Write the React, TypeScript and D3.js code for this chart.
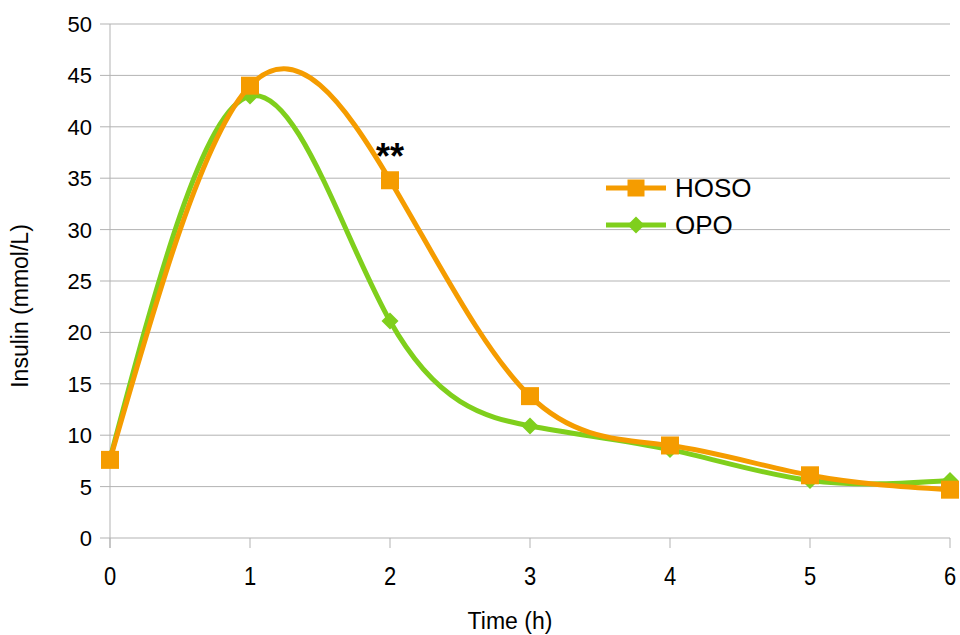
import React from 'react';
import * as d3 from 'd3';

const width = 960;
const height = 635;
const margin = { left: 110, right: 10, top: 24, bottom: 97 };

const hours = [0, 1, 2, 3, 4, 5, 6];
const hosoValues = [7.6, 44.0, 34.8, 13.8, 9.0, 6.1, 4.7];
const opoValues = [7.7, 43.0, 21.1, 10.9, 8.6, 5.6, 5.6];
const yTicks = [0, 5, 10, 15, 20, 25, 30, 35, 40, 45, 50];

const orange = '#f59c00';
const green = '#7fcf1c';
const font = '"Liberation Sans", Arial, sans-serif';

const x = d3.scaleLinear().domain([0, 6]).range([margin.left, width - margin.right]);
const y = d3.scaleLinear().domain([0, 50]).range([height - margin.bottom, margin.top]);

const line = d3
  .line<number>()
  .x((d, i) => x(hours[i]))
  .y((d) => y(d))
  .curve(d3.curveNatural);

function Square({ cx, cy, s }: { cx: number; cy: number; s: number }) {
  return <rect x={cx - s / 2} y={cy - s / 2} width={s} height={s} fill={orange} />;
}

function Diamond({ cx, cy, s }: { cx: number; cy: number; s: number }) {
  const h = s / 2;
  return (
    <path d={`M${cx},${cy - h}L${cx + h},${cy}L${cx},${cy + h}L${cx - h},${cy}Z`} fill={green} />
  );
}

export default function App() {
  const x0 = x.range()[0];
  const x1 = x.range()[1];
  const yBase = y(0);

  return (
    <svg
      width={width}
      height={height}
      style={{ position: 'absolute', left: 0, top: 0, background: '#fff' }}
      fontFamily={font}
    >
      {/* grid + y axis */}
      {yTicks.map((t) => (
        <g key={t}>
          <line x1={x0 - 10} x2={x1} y1={y(t)} y2={y(t)} stroke="#b3b3b3" strokeWidth={1} />
          <text x={x0 - 18} y={y(t)} dy="0.36em" textAnchor="end" fontSize={22} fill="#000">
            {t}
          </text>
        </g>
      ))}
      <line x1={x0} x2={x0} y1={y(50)} y2={yBase + 10} stroke="#b3b3b3" strokeWidth={1} />

      {/* x axis */}
      {hours.map((h) => (
        <g key={h}>
          <line x1={x(h)} x2={x(h)} y1={yBase} y2={yBase + 10} stroke="#b3b3b3" strokeWidth={1} />
          <text
            transform={`translate(${x(h)}, 585) scale(1, 1.2)`}
            textAnchor="middle"
            fontSize={22}
            fill="#000"
          >
            {h}
          </text>
        </g>
      ))}

      <text x={510} y={629} textAnchor="middle" fontSize={23} fill="#000">
        Time (h)
      </text>
      <text transform="translate(28, 306) rotate(-90)" textAnchor="middle" fontSize={23} fill="#000">
        Insulin (mmol/L)
      </text>

      {/* series */}
      <path d={line(opoValues) || ''} fill="none" stroke={green} strokeWidth={5} />
      {opoValues.map((v, i) => (
        <Diamond key={i} cx={x(hours[i])} cy={y(v)} s={17} />
      ))}
      <path d={line(hosoValues) || ''} fill="none" stroke={orange} strokeWidth={5} />
      {hosoValues.map((v, i) => (
        <Square key={i} cx={x(hours[i])} cy={y(v)} s={18} />
      ))}

      <text x={x(2)} y={169} textAnchor="middle" fontSize={36} fontWeight="bold" fill="#000">
        **
      </text>

      {/* legend */}
      <g>
        <line x1={606} x2={666} y1={188} y2={188} stroke={orange} strokeWidth={5} />
        <Square cx={636} cy={188} s={17} />
        <text x={675} y={188} dy="0.36em" fontSize={26} fill="#000">
          HOSO
        </text>
        <line x1={606} x2={666} y1={225} y2={225} stroke={green} strokeWidth={5} />
        <Diamond cx={636} cy={225} s={17} />
        <text x={675} y={225} dy="0.36em" fontSize={26} fill="#000">
          OPO
        </text>
      </g>
    </svg>
  );
}
